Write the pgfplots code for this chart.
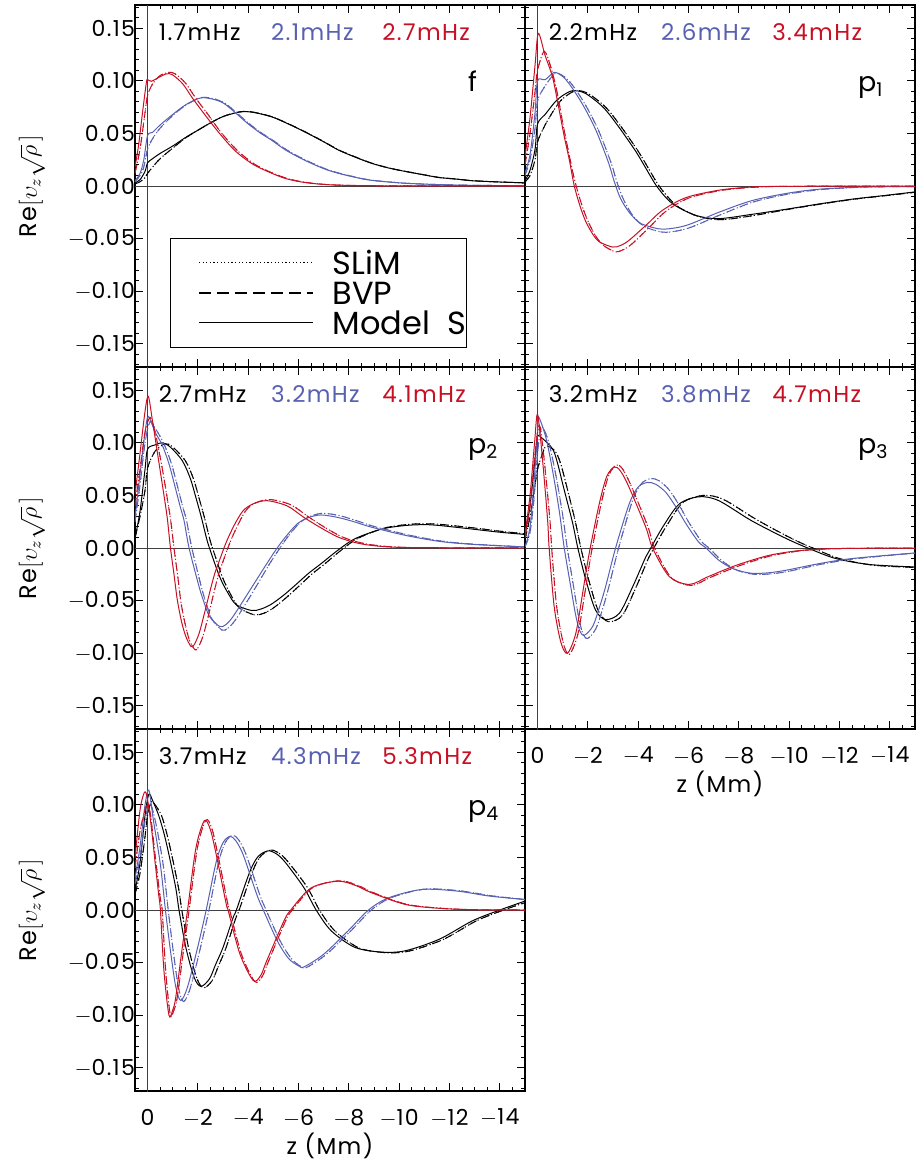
\documentclass[border=0pt]{standalone}
\usepackage{pgfplots}
\pgfplotsset{compat=1.18}
\usepackage{pgfplotstable}
\usepackage{fontspec}
\setmainfont{Poppins}[LetterSpace=6]
\newfontfamily\legfont{Poppins}
\definecolor{cblue}{RGB}{88,96,178}
\definecolor{cred}{RGB}{200,16,36}
\newcommand{\mn}{$-$}

% ---------- panel f ----------
\pgfplotstableread[row sep=\\]{z v\\ 0.5 0.003\\ 0.3 0.006\\ 0.1 0.014\\ 0 0.022\\ -0.2 0.026\\ -0.5 0.031\\ -1 0.038\\ -1.5 0.046\\ -2 0.053\\ -2.5 0.060\\ -3 0.066\\ -3.5 0.0695\\ -3.8 0.0707\\ -4.2 0.070\\ -4.9 0.066\\ -5.5 0.060\\ -6.2 0.052\\ -7 0.042\\ -7.6 0.034\\ -8.3 0.027\\ -8.9 0.0216\\ -9.6 0.017\\ -10.3 0.0136\\ -11 0.0105\\ -11.6 0.008\\ -12.3 0.0065\\ -12.9 0.005\\ -14 0.0038\\ -15 0.003\\}\fKS
\pgfplotstableread[row sep=\\]{z v\\ 0.5 0.002\\ 0.3 0.004\\ 0.1 0.008\\ 0 0.012\\ -0.2 0.018\\ -0.5 0.026\\ -1 0.036\\ -1.5 0.0455\\ -2 0.053\\ -2.5 0.060\\ -3 0.066\\ -3.5 0.0697\\ -3.8 0.0708\\ -4.2 0.0702\\ -4.9 0.0662\\ -5.5 0.0602\\ -6.2 0.0522\\ -7 0.0422\\ -7.6 0.0342\\ -8.3 0.0272\\ -8.9 0.0218\\ -9.6 0.0171\\ -10.3 0.0137\\ -11 0.0106\\ -11.6 0.0081\\ -12.3 0.0066\\ -12.9 0.0051\\ -14 0.0038\\ -15 0.003\\}\fKB
\pgfplotstableread[row sep=\\]{z v\\ 0.5 0.005\\ 0.3 0.012\\ 0.15 0.025\\ 0 0.048\\ -0.2 0.051\\ -0.5 0.058\\ -1 0.068\\ -1.5 0.077\\ -2 0.083\\ -2.2 0.084\\ -2.6 0.0825\\ -3 0.079\\ -3.4 0.0715\\ -4 0.059\\ -4.5 0.050\\ -4.9 0.044\\ -5.5 0.034\\ -6.2 0.025\\ -7 0.0165\\ -7.6 0.012\\ -8.3 0.008\\ -8.9 0.0054\\ -10 0.003\\ -11 0.0018\\ -12.5 0.0008\\ -15 0.0002\\}\fBS
\pgfplotstableread[row sep=\\]{z v\\ 0.5 0.004\\ 0.3 0.010\\ 0.15 0.018\\ 0 0.035\\ -0.2 0.045\\ -0.5 0.055\\ -1 0.067\\ -1.5 0.0765\\ -2 0.083\\ -2.25 0.0843\\ -2.65 0.0828\\ -3.05 0.079\\ -3.45 0.0715\\ -4.05 0.059\\ -4.55 0.050\\ -4.95 0.044\\ -5.55 0.034\\ -6.25 0.025\\ -7.05 0.0165\\ -7.65 0.012\\ -8.35 0.008\\ -8.95 0.0054\\ -10 0.003\\ -11 0.0018\\ -12.5 0.0008\\ -15 0.0002\\}\fBB
\pgfplotstableread[row sep=\\]{z v\\ 0.5 0.018\\ 0.35 0.04\\ 0.2 0.07\\ 0.05 0.098\\ 0 0.101\\ -0.15 0.0995\\ -0.35 0.102\\ -0.75 0.1066\\ -1 0.1055\\ -1.4 0.097\\ -1.8 0.083\\ -2.3 0.067\\ -2.86 0.050\\ -3.5 0.033\\ -4.2 0.0205\\ -4.9 0.0125\\ -5.5 0.007\\ -6.2 0.0035\\ -7 0.0015\\ -8 0.0006\\ -10 0.0001\\ -15 0\\}\fRS
\pgfplotstableread[row sep=\\]{z v\\ 0.5 0.012\\ 0.3 0.035\\ 0.1 0.07\\ 0 0.086\\ -0.2 0.097\\ -0.5 0.105\\ -0.85 0.108\\ -1.1 0.1065\\ -1.5 0.098\\ -1.9 0.084\\ -2.4 0.068\\ -2.95 0.050\\ -3.6 0.033\\ -4.3 0.020\\ -5 0.012\\ -5.6 0.0068\\ -6.3 0.0034\\ -7.1 0.0014\\ -8 0.0005\\ -10 0.0001\\ -15 0\\}\fRB
% ---------- panel p1 ----------
\pgfplotstableread[row sep=\\]{z v\\ 0.5 0.005\\ 0.3 0.015\\ 0.1 0.035\\ 0 0.059\\ -0.3 0.068\\ -0.7 0.080\\ -1.0 0.086\\ -1.4 0.0906\\ -1.9 0.088\\ -2.6 0.075\\ -3.2 0.057\\ -3.9 0.033\\ -4.3 0.017\\ -4.7 0.001\\ -5.1 -0.011\\ -5.5 -0.019\\ -6.3 -0.028\\ -7.2 -0.031\\ -8.5 -0.027\\ -9.9 -0.022\\ -11.2 -0.017\\ -12.5 -0.0125\\ -13.8 -0.009\\ -15 -0.0056\\}\aKS
\pgfplotstableread[row sep=\\]{z v\\ 0.5 0.004\\ 0.3 0.010\\ 0.1 0.025\\ 0 0.042\\ -0.3 0.058\\ -0.7 0.074\\ -1.0 0.083\\ -1.5 0.0905\\ -2.0 0.088\\ -2.7 0.075\\ -3.3 0.057\\ -4.0 0.033\\ -4.4 0.017\\ -4.8 0.001\\ -5.2 -0.011\\ -5.6 -0.020\\ -6.4 -0.029\\ -7.3 -0.032\\ -8.6 -0.028\\ -10 -0.022\\ -11.3 -0.017\\ -12.6 -0.0125\\ -13.9 -0.009\\ -15 -0.006\\}\aKB
\pgfplotstableread[row sep=\\]{z v\\ 0.5 0.0125\\ 0.3 0.03\\ 0.1 0.07\\ 0 0.10\\ -0.3 0.101\\ -0.66 0.108\\ -1.0 0.104\\ -1.26 0.097\\ -1.6 0.085\\ -1.92 0.072\\ -2.3 0.054\\ -2.58 0.0375\\ -2.85 0.02\\ -3.05 0.004\\ -3.3 -0.012\\ -3.64 -0.025\\ -4.0 -0.034\\ -4.3 -0.0375\\ -4.97 -0.041\\ -5.9 -0.0375\\ -7.2 -0.025\\ -8.5 -0.014\\ -9.9 -0.007\\ -11.2 -0.003\\ -13 -0.001\\ -15 -0.0005\\}\aBS
\pgfplotstableread[row sep=\\]{z v\\ 0.5 0.01\\ 0.3 0.025\\ 0.1 0.055\\ 0 0.081\\ -0.3 0.095\\ -0.7 0.107\\ -1.05 0.104\\ -1.35 0.097\\ -1.7 0.085\\ -2.02 0.072\\ -2.4 0.054\\ -2.68 0.0375\\ -2.95 0.02\\ -3.15 0.004\\ -3.4 -0.012\\ -3.75 -0.027\\ -4.1 -0.036\\ -4.5 -0.041\\ -5.1 -0.044\\ -6.0 -0.040\\ -7.3 -0.027\\ -8.6 -0.015\\ -10 -0.0075\\ -11.3 -0.0033\\ -13 -0.001\\ -15 -0.0005\\}\aBB
\pgfplotstableread[row sep=\\]{z v\\ 0.5 0.028\\ 0.3 0.065\\ 0.1 0.115\\ -0.03 0.145\\ -0.3 0.124\\ -0.6 0.103\\ -0.86 0.072\\ -1.06 0.047\\ -1.26 0.025\\ -1.46 0.0\\ -1.7 -0.02\\ -1.92 -0.034\\ -2.2 -0.046\\ -2.45 -0.053\\ -2.98 -0.058\\ -3.3 -0.0565\\ -3.64 -0.0515\\ -4.3 -0.0375\\ -4.97 -0.023\\ -5.9 -0.011\\ -7.2 -0.004\\ -8.5 -0.001\\ -10 -0.0003\\ -15 0\\}\aRS
\pgfplotstableread[row sep=\\]{z v\\ 0.5 0.02\\ 0.3 0.05\\ 0.1 0.09\\ 0 0.11\\ -0.26 0.128\\ -0.5 0.115\\ -0.75 0.092\\ -1.0 0.06\\ -1.2 0.036\\ -1.4 0.013\\ -1.58 -0.004\\ -1.8 -0.021\\ -2.05 -0.036\\ -2.35 -0.049\\ -2.65 -0.057\\ -3.1 -0.0625\\ -3.45 -0.06\\ -3.8 -0.054\\ -4.45 -0.039\\ -5.1 -0.024\\ -6.0 -0.0115\\ -7.3 -0.0042\\ -8.6 -0.0012\\ -10 -0.0003\\ -15 0\\}\aRB
% ---------- panel p2 ----------
\pgfplotstableread[row sep=\\]{z v\\ 0.5 0.009\\ 0.3 0.035\\ 0.1 0.075\\ 0 0.094\\ -0.3 0.098\\ -0.58 0.100\\ -0.9 0.096\\ -1.38 0.083\\ -1.7 0.066\\ -1.92 0.048\\ -2.15 0.028\\ -2.33 0.0104\\ -2.46 0.0\\ -2.86 -0.027\\ -3.2 -0.043\\ -3.53 -0.054\\ -4.14 -0.0594\\ -4.5 -0.058\\ -4.88 -0.054\\ -5.4 -0.045\\ -5.95 -0.0336\\ -6.4 -0.024\\ -6.9 -0.0148\\ -7.57 -0.002\\ -8.24 0.0088\\ -9.3 0.018\\ -10.25 0.0214\\ -11 0.0222\\ -11.6 0.0214\\ -12.9 0.018\\ -14 0.015\\ -15 0.0129\\}\bKS
\pgfplotstableread[row sep=\\]{z v\\ 0.5 0.01\\ 0.3 0.03\\ 0.1 0.055\\ 0 0.076\\ -0.3 0.092\\ -0.7 0.099\\ -1.0 0.096\\ -1.5 0.083\\ -1.82 0.066\\ -2.04 0.048\\ -2.27 0.028\\ -2.45 0.0104\\ -2.58 0.0\\ -2.98 -0.028\\ -3.32 -0.045\\ -3.65 -0.057\\ -4.25 -0.0635\\ -4.62 -0.062\\ -5.0 -0.057\\ -5.52 -0.047\\ -6.07 -0.035\\ -6.52 -0.025\\ -7.02 -0.0155\\ -7.7 -0.002\\ -8.36 0.0092\\ -9.42 0.019\\ -10.4 0.0225\\ -11.1 0.023\\ -11.7 0.0223\\ -13 0.019\\ -14 0.016\\ -15 0.0135\\}\bKB
\pgfplotstableread[row sep=\\]{z v\\ 0.5 0.029\\ 0.3 0.07\\ 0.1 0.11\\ -0.03 0.125\\ -0.3 0.11\\ -0.58 0.098\\ -0.85 0.08\\ -1.1 0.0575\\ -1.3 0.039\\ -1.45 0.026\\ -1.65 0.0\\ -2.05 -0.037\\ -2.25 -0.052\\ -2.46 -0.065\\ -2.86 -0.0745\\ -3.1 -0.073\\ -3.4 -0.065\\ -4.07 -0.04\\ -4.74 -0.0148\\ -5.15 0.0\\ -5.5 0.011\\ -5.95 0.023\\ -6.4 0.029\\ -6.9 0.0314\\ -7.57 0.029\\ -8.2 0.025\\ -8.9 0.0198\\ -10.25 0.012\\ -11.6 0.0063\\ -12.9 0.0035\\ -15 0.001\\}\bBS
\pgfplotstableread[row sep=\\]{z v\\ 0.5 0.025\\ 0.3 0.06\\ 0.1 0.1\\ -0.1 0.12\\ -0.35 0.112\\ -0.65 0.099\\ -0.95 0.08\\ -1.2 0.0575\\ -1.4 0.039\\ -1.55 0.026\\ -1.76 0.0\\ -2.16 -0.039\\ -2.36 -0.055\\ -2.57 -0.068\\ -2.96 -0.078\\ -3.2 -0.076\\ -3.5 -0.068\\ -4.18 -0.042\\ -4.85 -0.015\\ -5.26 0.0\\ -5.6 0.0115\\ -6.05 0.024\\ -6.5 0.0305\\ -7.0 0.033\\ -7.67 0.0305\\ -8.3 0.026\\ -9.0 0.0205\\ -10.35 0.0125\\ -11.7 0.0065\\ -13 0.0036\\ -15 0.001\\}\bBB
\pgfplotstableread[row sep=\\]{z v\\ 0.5 0.051\\ 0.3 0.09\\ 0.1 0.13\\ -0.03 0.144\\ -0.2 0.12\\ -0.44 0.083\\ -0.62 0.055\\ -0.78 0.029\\ -0.91 0.0\\ -1.05 -0.025\\ -1.18 -0.049\\ -1.35 -0.07\\ -1.52 -0.084\\ -1.72 -0.0934\\ -1.85 -0.092\\ -2.05 -0.081\\ -2.25 -0.063\\ -2.46 -0.043\\ -2.66 -0.025\\ -2.86 -0.0116\\ -3.13 0.0057\\ -3.45 0.022\\ -3.8 0.0355\\ -4.2 0.042\\ -4.74 0.045\\ -5.55 0.040\\ -6.22 0.029\\ -6.9 0.019\\ -7.57 0.0104\\ -8.2 0.0055\\ -8.9 0.0025\\ -10.25 0.0005\\ -15 0\\}\bRS
\pgfplotstableread[row sep=\\]{z v\\ 0.5 0.04\\ 0.3 0.075\\ 0.1 0.11\\ -0.1 0.124\\ -0.3 0.11\\ -0.55 0.08\\ -0.75 0.052\\ -0.92 0.026\\ -1.05 0.0\\ -1.2 -0.027\\ -1.33 -0.052\\ -1.5 -0.073\\ -1.67 -0.088\\ -1.88 -0.0965\\ -2.0 -0.095\\ -2.2 -0.084\\ -2.4 -0.066\\ -2.61 -0.045\\ -2.81 -0.026\\ -3.01 -0.012\\ -3.28 0.0055\\ -3.6 0.0225\\ -3.95 0.037\\ -4.35 0.0435\\ -4.9 0.046\\ -5.7 0.041\\ -6.37 0.030\\ -7.05 0.0195\\ -7.72 0.0107\\ -8.35 0.0057\\ -9.05 0.0026\\ -10.4 0.0005\\ -15 0\\}\bRB
% ---------- panel p3 ----------
\pgfplotstableread[row sep=\\]{z v\\ 0.5 0.0135\\ 0.3 0.04\\ 0.1 0.085\\ 0 0.106\\ -0.2 0.104\\ -0.6 0.094\\ -0.8 0.08\\ -1.0 0.0607\\ -1.2 0.042\\ -1.4 0.023\\ -1.6 0.0\\ -1.92 -0.0305\\ -2.3 -0.0588\\ -2.7 -0.068\\ -3.25 -0.062\\ -3.78 -0.0368\\ -4.3 -0.0085\\ -4.5 0.0\\ -4.97 0.0198\\ -5.63 0.0418\\ -6.42 0.0487\\ -7.2 0.045\\ -8.5 0.026\\ -9.9 0.0088\\ -10.8 -0.0006\\ -11.85 -0.01\\ -13.2 -0.0157\\ -15 -0.018\\}\cKS
\pgfplotstableread[row sep=\\]{z v\\ 0.5 0.008\\ 0.3 0.03\\ 0.1 0.06\\ 0 0.075\\ -0.2 0.09\\ -0.35 0.097\\ -0.7 0.092\\ -0.92 0.08\\ -1.12 0.062\\ -1.32 0.043\\ -1.52 0.023\\ -1.72 0.0\\ -2.04 -0.031\\ -2.42 -0.06\\ -2.82 -0.070\\ -3.37 -0.064\\ -3.9 -0.038\\ -4.42 -0.009\\ -4.62 0.0\\ -5.1 0.02\\ -5.77 0.043\\ -6.6 0.050\\ -7.4 0.046\\ -8.7 0.027\\ -10.1 0.009\\ -11.0 -0.0006\\ -12 -0.01\\ -13.3 -0.0162\\ -15 -0.0185\\}\cKB
\pgfplotstableread[row sep=\\]{z v\\ 0.5 0.001\\ 0.3 0.02\\ 0.15 0.06\\ 0 0.11\\ -0.03 0.125\\ -0.33 0.105\\ -0.6 0.073\\ -0.86 0.0355\\ -1.06 0.0\\ -1.32 -0.037\\ -1.5 -0.062\\ -1.66 -0.0777\\ -1.85 -0.083\\ -2.19 -0.0745\\ -2.45 -0.057\\ -2.7 -0.037\\ -3.1 0.0\\ -3.64 0.0418\\ -4.0 0.058\\ -4.37 0.0623\\ -4.7 0.0605\\ -5.1 0.0528\\ -5.5 0.039\\ -5.9 0.023\\ -6.4 0.0057\\ -6.7 0.0\\ -7.2 -0.0116\\ -7.8 -0.02\\ -8.5 -0.024\\ -9.2 -0.0235\\ -9.9 -0.021\\ -11.2 -0.0148\\ -12.5 -0.01\\ -15 -0.0047\\}\cBS
\pgfplotstableread[row sep=\\]{z v\\ 0.5 0.001\\ 0.3 0.015\\ 0.15 0.045\\ 0 0.09\\ -0.1 0.11\\ -0.2 0.115\\ -0.45 0.1\\ -0.72 0.07\\ -0.98 0.034\\ -1.18 0.0\\ -1.44 -0.038\\ -1.62 -0.064\\ -1.78 -0.080\\ -1.98 -0.086\\ -2.31 -0.077\\ -2.57 -0.059\\ -2.82 -0.038\\ -3.22 0.0\\ -3.76 0.044\\ -4.12 0.061\\ -4.5 0.066\\ -4.82 0.064\\ -5.22 0.0555\\ -5.62 0.041\\ -6.02 0.024\\ -6.52 0.006\\ -6.82 0.0\\ -7.32 -0.012\\ -7.92 -0.021\\ -8.62 -0.025\\ -9.3 -0.0245\\ -10 -0.022\\ -11.3 -0.0153\\ -12.6 -0.0103\\ -15 -0.0048\\}\cBB
\pgfplotstableread[row sep=\\]{z v\\ 0.5 0.0135\\ 0.3 0.05\\ 0.12 0.1\\ 0 0.127\\ -0.2 0.083\\ -0.4 0.026\\ -0.46 0.0\\ -0.66 -0.0557\\ -0.93 -0.09\\ -1.19 -0.10\\ -1.52 -0.081\\ -1.79 -0.043\\ -2.05 -0.0053\\ -2.45 0.0418\\ -2.75 0.068\\ -3.05 0.077\\ -3.3 0.073\\ -3.64 0.0575\\ -4.3 0.0198\\ -4.57 0.0\\ -5.23 -0.027\\ -6.03 -0.0346\\ -6.8 -0.027\\ -7.9 -0.0164\\ -9.2 -0.007\\ -10.5 -0.0022\\ -12 -0.0005\\ -15 0\\}\cRS
\pgfplotstableread[row sep=\\]{z v\\ 0.5 0.01\\ 0.3 0.04\\ 0.12 0.085\\ 0 0.11\\ -0.1 0.115\\ -0.28 0.08\\ -0.5 0.024\\ -0.56 0.0\\ -0.76 -0.056\\ -1.03 -0.091\\ -1.27 -0.101\\ -1.6 -0.082\\ -1.87 -0.044\\ -2.13 -0.0055\\ -2.53 0.0425\\ -2.83 0.069\\ -3.13 0.079\\ -3.38 0.075\\ -3.72 0.059\\ -4.38 0.0205\\ -4.65 0.0\\ -5.31 -0.028\\ -6.11 -0.0355\\ -6.88 -0.0278\\ -8 -0.017\\ -9.3 -0.0073\\ -10.6 -0.0023\\ -12 -0.0005\\ -15 0\\}\cRB
% ---------- panel p4 ----------
\pgfplotstableread[row sep=\\]{z v\\ 0.5 0.018\\ 0.3 0.045\\ 0.1 0.09\\ -0.05 0.11\\ -0.2 0.104\\ -0.44 0.09\\ -0.65 0.073\\ -0.85 0.0525\\ -1.12 0.021\\ -1.25 0.0\\ -1.52 -0.0355\\ -1.85 -0.064\\ -2.12 -0.0726\\ -2.46 -0.0654\\ -2.7 -0.052\\ -3.0 -0.0355\\ -3.4 -0.0072\\ -3.53 0.0\\ -4.07 0.0368\\ -4.4 0.051\\ -4.81 0.0563\\ -5.2 0.052\\ -5.55 0.043\\ -6.22 0.021\\ -6.7 0.0\\ -7.3 -0.0198\\ -8.24 -0.0355\\ -9.3 -0.040\\ -10.25 -0.0387\\ -11.6 -0.0277\\ -12.9 -0.0104\\ -14 0.0\\ -15 0.0085\\}\dKS
\pgfplotstableread[row sep=\\]{z v\\ 0.5 0.015\\ 0.3 0.035\\ 0.1 0.07\\ 0 0.09\\ -0.15 0.103\\ -0.3 0.1\\ -0.55 0.09\\ -0.76 0.073\\ -0.96 0.0525\\ -1.23 0.021\\ -1.36 0.0\\ -1.63 -0.036\\ -1.96 -0.065\\ -2.23 -0.074\\ -2.57 -0.067\\ -2.81 -0.0535\\ -3.11 -0.0365\\ -3.51 -0.0075\\ -3.64 0.0\\ -4.18 0.037\\ -4.51 0.0515\\ -4.92 0.057\\ -5.31 0.0525\\ -5.66 0.0435\\ -6.35 0.0215\\ -6.83 0.0\\ -7.45 -0.02\\ -8.4 -0.036\\ -9.45 -0.0405\\ -10.4 -0.039\\ -11.75 -0.028\\ -13.05 -0.0105\\ -14.15 0.0\\ -15 0.007\\}\dKB
\pgfplotstableread[row sep=\\]{z v\\ 0.5 0.030\\ 0.3 0.06\\ 0.1 0.1\\ -0.05 0.114\\ -0.24 0.084\\ -0.51 0.043\\ -0.71 0.0\\ -0.91 -0.0387\\ -1.12 -0.073\\ -1.32 -0.086\\ -1.59 -0.073\\ -1.99 -0.0355\\ -2.33 0.0\\ -2.73 0.046\\ -3.0 0.064\\ -3.27 0.07\\ -3.5 0.066\\ -3.8 0.0525\\ -4.34 0.0148\\ -4.6 0.0\\ -5.15 -0.029\\ -5.6 -0.046\\ -6.0 -0.053\\ -6.22 -0.054\\ -7.0 -0.042\\ -7.97 -0.0198\\ -8.78 0.0\\ -9.58 0.0116\\ -10.9 0.0195\\ -12.3 0.018\\ -13.6 0.0132\\ -15 0.01\\}\dBS
\pgfplotstableread[row sep=\\]{z v\\ 0.5 0.025\\ 0.3 0.05\\ 0.1 0.085\\ -0.05 0.1\\ -0.15 0.099\\ -0.35 0.08\\ -0.62 0.043\\ -0.82 0.0\\ -1.02 -0.039\\ -1.23 -0.074\\ -1.43 -0.087\\ -1.7 -0.074\\ -2.1 -0.036\\ -2.44 0.0\\ -2.84 0.047\\ -3.11 0.065\\ -3.38 0.071\\ -3.61 0.067\\ -3.91 0.053\\ -4.45 0.015\\ -4.71 0.0\\ -5.26 -0.029\\ -5.71 -0.046\\ -6.11 -0.054\\ -6.33 -0.0545\\ -7.11 -0.042\\ -8.08 -0.0198\\ -8.89 0.0\\ -9.69 0.0118\\ -11 0.0198\\ -12.4 0.0183\\ -13.7 0.0134\\ -15 0.01\\}\dBB
\pgfplotstableread[row sep=\\]{z v\\ 0.5 0.049\\ 0.3 0.095\\ 0.12 0.112\\ 0 0.105\\ -0.17 0.0745\\ -0.3 0.045\\ -0.44 0.0148\\ -0.51 0.0\\ -0.65 -0.0575\\ -0.85 -0.10\\ -1.0 -0.095\\ -1.12 -0.083\\ -1.38 -0.0355\\ -1.59 0.0\\ -1.92 0.0588\\ -2.26 0.085\\ -2.5 0.076\\ -2.73 0.0525\\ -3.13 0.0053\\ -3.2 0.0\\ -3.67 -0.0418\\ -4.2 -0.067\\ -4.5 -0.062\\ -4.74 -0.048\\ -5.42 -0.0104\\ -5.69 0.0\\ -6.5 0.021\\ -7.57 0.0274\\ -8.3 0.023\\ -8.9 0.0164\\ -10.25 0.0053\\ -11.6 0.0016\\ -13 0.0003\\ -15 0\\}\dRS
\pgfplotstableread[row sep=\\]{z v\\ 0.5 0.04\\ 0.3 0.075\\ 0.1 0.095\\ 0 0.1\\ -0.12 0.09\\ -0.3 0.052\\ -0.5 0.012\\ -0.58 0.0\\ -0.72 -0.058\\ -0.9 -0.099\\ -1.05 -0.095\\ -1.18 -0.083\\ -1.44 -0.036\\ -1.65 0.0\\ -1.98 0.059\\ -2.32 0.0855\\ -2.56 0.077\\ -2.79 0.053\\ -3.19 0.0055\\ -3.26 0.0\\ -3.73 -0.042\\ -4.26 -0.068\\ -4.56 -0.063\\ -4.8 -0.049\\ -5.48 -0.0106\\ -5.75 0.0\\ -6.56 0.0212\\ -7.63 0.0278\\ -8.36 0.0233\\ -8.96 0.0166\\ -10.3 0.0054\\ -11.7 0.0016\\ -13 0.0003\\ -15 0\\}\dRB

\pgfplotsset{
  panel/.style={
    width=195pt, height=181pt, scale only axis,
    xmin=-15, xmax=0.5, ymin=-0.172, ymax=0.172, x dir=reverse,
    xtick={-14,-12,-10,-8,-6,-4,-2,0},
    ytick={-0.15,-0.1,-0.05,0,0.05,0.1,0.15},
    minor xtick={-15,-14.5,-13.5,-13,-12.5,-11.5,-11,-10.5,-9.5,-9,-8.5,-7.5,-7,-6.5,-5.5,-5,-4.5,-3.5,-3,-2.5,-1.5,-1,-0.5},
    minor ytick={-0.17,-0.16,-0.14,-0.13,-0.12,-0.11,-0.09,-0.08,-0.07,-0.06,-0.04,-0.03,-0.02,-0.01,0.01,0.02,0.03,0.04,0.06,0.07,0.08,0.09,0.11,0.12,0.13,0.14,0.16,0.17},
    tick align=inside, major tick length=4pt, minor tick length=2pt,
    xticklabels={}, yticklabels={},
    axis line style={line width=0.8pt},
    every tick/.append style={black, line width=0.5pt},
    tick label style={font=\fontsize{11}{13}\selectfont},
    yticklabel style={xshift=3.5pt},
    xticklabel style={yshift=-5.5pt},
    anchor=north west,
  },
  ylab/.style={
    yticklabels={\mn0.15,\mn0.10,\mn0.05,0.00,0.05,0.10,0.15},
    ylabel={Re$\big[\upsilon_{z}\sqrt{\rho}\,\big]$},
    ylabel style={at={(axis description cs:-0.2641,0.5)}, anchor=center, inner sep=0pt, font=\fontsize{12}{14}\selectfont},
  },
  xlab/.style={
    xticklabels={\mn14,\mn12,\mn10,\mn8,\mn6,\mn4,\mn2,0},
    xlabel={z (Mm)},
    xlabel style={at={(axis description cs:0.5,-0.151)}, anchor=center, inner sep=0pt, font=\fontsize{11.5}{13}\selectfont},
  },
  S/.style={line width=0.5pt, smooth, tension=0.5},
  B/.style={line width=0.5pt, smooth, tension=0.5, dash pattern=on 4pt off 3pt},
  D/.style={line width=0.5pt, smooth, tension=0.5, dash pattern=on 0.6pt off 1.2pt},
  zl/.style={black!75, line width=0.5pt},
}
\newcommand{\freq}[3]{%
  \node[anchor=west, inner sep=0pt, font=\fontsize{11.5}{13}\selectfont] at (rel axis cs:0.06,0.925) {#1};
  \node[anchor=west, inner sep=0pt, font=\fontsize{11.5}{13}\selectfont, text=cblue] at (rel axis cs:0.348,0.925) {#2};
  \node[anchor=west, inner sep=0pt, font=\fontsize{11.5}{13}\selectfont, text=cred] at (rel axis cs:0.633,0.925) {#3};}
\newcommand{\pname}[1]{\node[anchor=base west, inner sep=0pt, font=\fontsize{13.5}{15}\selectfont] at (rel axis cs:0.853,0.76) {#1};}
% args: KB KS BB BS RB RS
\newcommand{\curves}[6]{%
  \addplot[zl] coordinates {(-15,0) (0.5,0)};
  \addplot[zl] coordinates {(0,-0.2) (0,0.2)};
  \addplot[black,B] table {#1};
  \addplot[black,D] table {#1};
  \addplot[black,S] table {#2};
  \addplot[cblue,B] table {#3};
  \addplot[cblue,D] table {#3};
  \addplot[cblue,S] table {#4};
  \addplot[cred,B] table {#5};
  \addplot[cred,D] table {#5};
  \addplot[cred,S] table {#6};}

\begin{document}
\begin{tikzpicture}
\useasboundingbox (0pt,0pt) rectangle (460.5pt,-581pt);
% f
\begin{axis}[panel, ylab, at={(67.5pt,-2.5pt)}]
\curves{\fKB}{\fKS}{\fBB}{\fBS}{\fRB}{\fRS}
\freq{1.7mHz}{2.1mHz}{2.7mHz}
\pname{f}
\draw[line width=0.5pt] (rel axis cs:0.092,0.055) rectangle (rel axis cs:0.851,0.354);
\draw[line width=0.5pt, dash pattern=on 0.6pt off 1.2pt] (rel axis cs:0.164,0.290) -- (rel axis cs:0.456,0.290);
\draw[line width=0.9pt, dash pattern=on 6pt off 3pt] (rel axis cs:0.164,0.204) -- (rel axis cs:0.456,0.204);
\draw[line width=0.5pt] (rel axis cs:0.164,0.122) -- (rel axis cs:0.456,0.122);
\node[anchor=west, inner sep=0pt, font=\legfont\fontsize{16}{18}\selectfont] at (rel axis cs:0.506,0.290) {SLiM};
\node[anchor=west, inner sep=0pt, font=\legfont\fontsize{16}{18}\selectfont] at (rel axis cs:0.506,0.204) {BVP};
\node[anchor=west, inner sep=0pt, font=\legfont\fontsize{16}{18}\selectfont] at (rel axis cs:0.506,0.122) {Model\ \ S};
\end{axis}
% p1
\begin{axis}[panel, at={(262.5pt,-2.5pt)}]
\curves{\aKB}{\aKS}{\aBB}{\aBS}{\aRB}{\aRS}
\freq{2.2mHz}{2.6mHz}{3.4mHz}
\pname{p\textsubscript{1}}
\end{axis}
% p2
\begin{axis}[panel, ylab, at={(67.5pt,-183.5pt)}]
\curves{\bKB}{\bKS}{\bBB}{\bBS}{\bRB}{\bRS}
\freq{2.7mHz}{3.2mHz}{4.1mHz}
\pname{p\textsubscript{2}}
\end{axis}
% p3
\begin{axis}[panel, xlab, at={(262.5pt,-183.5pt)}]
\curves{\cKB}{\cKS}{\cBB}{\cBS}{\cRB}{\cRS}
\freq{3.2mHz}{3.8mHz}{4.7mHz}
\pname{p\textsubscript{3}}
\end{axis}
% p4
\begin{axis}[panel, ylab, xlab, at={(67.5pt,-364.5pt)}]
\curves{\dKB}{\dKS}{\dBB}{\dBS}{\dRB}{\dRS}
\freq{3.7mHz}{4.3mHz}{5.3mHz}
\pname{p\textsubscript{4}}
\end{axis}
\end{tikzpicture}
\end{document}
